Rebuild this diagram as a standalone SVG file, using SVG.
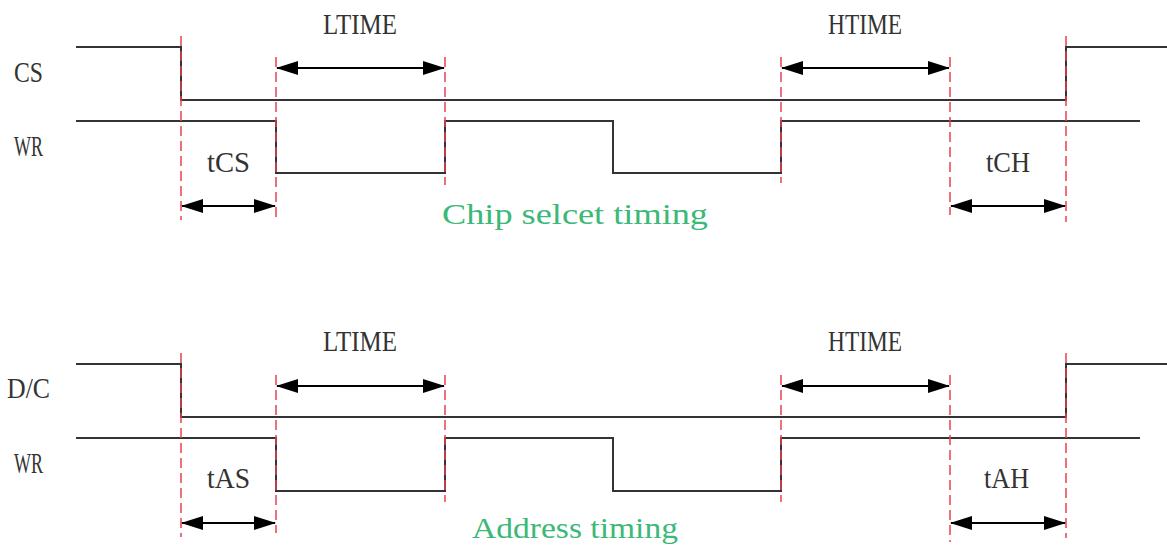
<svg xmlns="http://www.w3.org/2000/svg" width="1167" height="547" viewBox="0 0 1167 547">
<defs>
<marker id="ah" markerUnits="userSpaceOnUse" markerWidth="22" markerHeight="14" refX="21" refY="7" orient="auto-start-reverse" viewBox="0 0 22 14">
<path d="M0,0 L22,7 L0,14 z" fill="#000"/>
</marker>
<style>
.sig{fill:none;stroke:#333;stroke-width:2}
.grid{stroke:#e8424f;stroke-width:1.5;stroke-dasharray:10 5;fill:none}
.dim{stroke:#000;stroke-width:2;fill:none;marker-start:url(#ah);marker-end:url(#ah)}
.lbl{font-family:"Liberation Serif","DejaVu Serif",serif;font-size:30px;fill:#333}
.cap{font-family:"Liberation Serif","DejaVu Serif",serif;font-size:30px;fill:#3cb878}
</style>
</defs>
<rect width="1167" height="547" fill="#fff"/>

<g id="chip-select-timing">
  <g id="cs-signal">
    <text class="lbl" x="14" y="82" textLength="29" lengthAdjust="spacingAndGlyphs">CS</text>
    <path class="sig" d="M76,47 H181 V100 H1066 V47 H1167"/>
  </g>
  <g id="wr-signal-1">
    <text class="lbl" x="14" y="156" textLength="29" lengthAdjust="spacingAndGlyphs">WR</text>
    <path class="sig" d="M76,121 H276 V173 H445 V121 H613 V173 H781 V121 H1140"/>
  </g>
  <g id="guides-1">
    <path class="grid" d="M181,36 V220 M276,57 V217 M445,57 V185 M781,57 V183 M950,57 V215 M1066,36 V222"/>
  </g>
  <g id="dims-1">
    <path class="dim" d="M277,68 H444"/>
    <path class="dim" d="M782,68 H949"/>
    <path class="dim" d="M182,206 H275"/>
    <path class="dim" d="M951,206 H1065"/>
    <text class="lbl" x="323" y="34" textLength="74" lengthAdjust="spacingAndGlyphs">LTIME</text>
    <text class="lbl" x="828" y="34" textLength="74" lengthAdjust="spacingAndGlyphs">HTIME</text>
    <text class="lbl" x="207" y="172" textLength="43" lengthAdjust="spacingAndGlyphs">tCS</text>
    <text class="lbl" x="986" y="172" textLength="44" lengthAdjust="spacingAndGlyphs">tCH</text>
  </g>
  <text class="cap" x="442" y="224" textLength="266" lengthAdjust="spacingAndGlyphs">Chip selcet timing</text>
</g>

<g id="address-timing">
  <g id="dc-signal">
    <text class="lbl" x="7" y="398" textLength="43" lengthAdjust="spacingAndGlyphs">D/C</text>
    <path class="sig" d="M76,364 H181 V417 H1066 V364 H1167"/>
  </g>
  <g id="wr-signal-2">
    <text class="lbl" x="14" y="473" textLength="29" lengthAdjust="spacingAndGlyphs">WR</text>
    <path class="sig" d="M76,438 H276 V491 H445 V438 H613 V491 H781 V438 H1140"/>
  </g>
  <g id="guides-2">
    <path class="grid" d="M181,353 V537 M276,375 V533 M445,375 V502 M781,375 V502 M950,375 V542 M1066,353 V538"/>
  </g>
  <g id="dims-2">
    <path class="dim" d="M277,386 H444"/>
    <path class="dim" d="M782,386 H949"/>
    <path class="dim" d="M182,523 H275"/>
    <path class="dim" d="M951,523 H1065"/>
    <text class="lbl" x="323" y="351" textLength="74" lengthAdjust="spacingAndGlyphs">LTIME</text>
    <text class="lbl" x="828" y="351" textLength="74" lengthAdjust="spacingAndGlyphs">HTIME</text>
    <text class="lbl" x="207" y="488" textLength="43" lengthAdjust="spacingAndGlyphs">tAS</text>
    <text class="lbl" x="984" y="488" textLength="45" lengthAdjust="spacingAndGlyphs">tAH</text>
  </g>
  <text class="cap" x="472" y="538" textLength="206" lengthAdjust="spacingAndGlyphs">Address timing</text>
</g>
</svg>
